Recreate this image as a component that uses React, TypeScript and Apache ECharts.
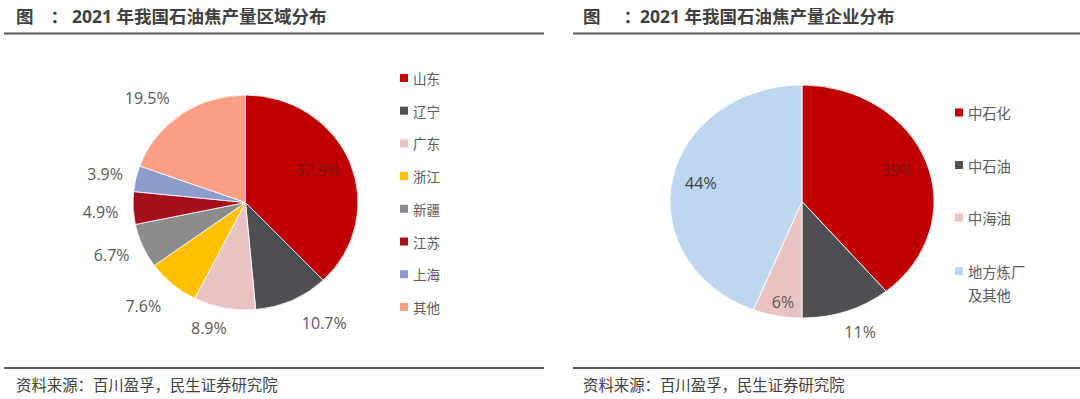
import React, { useEffect, useRef } from "react";
import * as echarts from "echarts";

const regionNames = ["山东", "辽宁", "广东", "浙江", "新疆", "江苏", "上海", "其他"];
const regionValues = [37.9, 10.7, 8.9, 7.6, 6.7, 4.9, 3.9, 19.5];
const regionColors = ["#C00000", "#4D4F52", "#E9C3C3", "#FFC000", "#8C8C8C", "#A50E1C", "#8E9CCB", "#FB9F85"];
const regionLabelFx = [0.694, 1.69, 1.74, 1.4, 1.3, 1.29, 1.28, 1.52];
const regionLabelFy = [0.815, 1.23, 1.19, 1.26, 1.22, 1.68, 1.21, 1.19];

const companyNames = ["中石化", "中石油", "中海油", "地方炼厂\n及其他"];
const companyValues = [39, 11, 6, 44];
const companyColors = ["#C00000", "#4D4F52", "#E9C3C3", "#BDD7EE"];
const companyLabelFx = [0.765, 1.3, 0.77, 0.78];
const companyLabelFy = [0.8, 1.19, 0.88, 0.85];

const leftTitle = "2021 年我国石油焦产量区域分布";
const rightTitle = "2021 年我国石油焦产量企业分布";
const sourceText = "资料来源：百川盈孚，民生证券研究院";

const FONT = "'Open Sans', 'Noto Sans CJK SC', sans-serif";
const CJK = "'Noto Sans CJK SC', sans-serif";

function fracs(values: number[], i: number) {
  const sum = values.reduce((a, b) => a + b, 0);
  let cum = 0;
  for (let k = 0; k < i; k++) cum += values[k];
  return [cum / sum, (cum + values[i]) / sum];
}

type Geo = { cx: number; cy: number; rx: number; ry: number };

function makeLayout(values: number[], fx: number[], fy: number[], g: Geo) {
  return (params: any) => {
    const i = params.dataIndex;
    const [a0, a1] = fracs(values, i);
    const a = ((a0 + a1) / 2) * Math.PI * 2;
    return {
      x: g.cx + fx[i] * g.rx * Math.sin(a),
      y: g.cy - fy[i] * g.ry * Math.cos(a),
      align: "center",
      verticalAlign: "middle",
    };
  };
}

function makeEllipsePie(values: number[], colors: string[], g: Geo) {
  return {
    type: "custom",
    coordinateSystem: "none",
    z: 2,
    silent: true,
    data: values,
    renderItem: (params: any) => {
      const i = params.dataIndex;
      const [f0, f1] = fracs(values, i);
      return {
        type: "sector",
        x: g.cx,
        y: g.cy,
        scaleX: g.rx / g.ry,
        scaleY: 1,
        shape: {
          cx: 0,
          cy: 0,
          r0: 0,
          r: g.ry,
          startAngle: -Math.PI / 2 + f0 * Math.PI * 2,
          endAngle: -Math.PI / 2 + f1 * Math.PI * 2,
          clockwise: true,
        },
        style: { fill: colors[i], stroke: "#ffffff", lineWidth: 0.8 },
      };
    },
  };
}

function makeLabelPie(names: string[], values: number[], colors: string[], g: Geo, fx: number[], fy: number[], labelColors: (string | undefined)[]) {
  return {
    type: "pie",
    z: 3,
    center: [g.cx, g.cy],
    radius: 0.5,
    startAngle: 90,
    clockwise: true,
    avoidLabelOverlap: false,
    silent: true,
    label: {
      show: true,
      position: "outside",
      formatter: (p: any) => p.value + "%",
      fontSize: 16,
      color: "#595959",
      fontFamily: FONT,
    },
    labelLine: { show: false },
    labelLayout: makeLayout(values, fx, fy, g),
    data: names.map((n, i) => ({
      name: n,
      value: values[i],
      itemStyle: { color: colors[i] },
      label: labelColors[i] ? { color: labelColors[i] } : undefined,
    })),
  };
}

export default function App() {
  const ref = useRef<HTMLDivElement>(null);
  useEffect(() => {
    const chart = echarts.init(ref.current!, null, { renderer: "svg" });
    const L: Geo = { cx: 245.5, cy: 202.5, rx: 112.5, ry: 107.5 };
    const R: Geo = { cx: 802, cy: 201.5, rx: 132, ry: 116.5 };
    const titleStyle = { fontSize: 17.5, fontWeight: "bold", fill: "#404040", fontFamily: CJK };
    const option: any = {
      animation: false,
      backgroundColor: "#ffffff",
      legend: [
        {
          orient: "vertical",
          left: 400,
          top: 71,
          padding: 0,
          itemWidth: 8,
          itemHeight: 8,
          itemGap: 18.7,
          icon: "rect",
          data: regionNames,
          textStyle: { fontSize: 13.5, lineHeight: 14, color: "#595959", fontFamily: CJK },
        },
        {
          orient: "vertical",
          left: 955,
          top: 101,
          padding: 0,
          itemWidth: 8,
          itemHeight: 8,
          itemGap: 29.5,
          icon: "rect",
          data: companyNames.slice(0, 3),
          textStyle: { fontSize: 14.3, lineHeight: 23, color: "#595959", fontFamily: CJK },
        },
        {
          orient: "vertical",
          left: 955,
          top: 236.5,
          padding: 0,
          itemWidth: 8,
          itemHeight: 8,
          icon: "rect",
          data: [companyNames[3]],
          formatter: (name: string) => "\n" + name,
          textStyle: { fontSize: 14.3, lineHeight: 23, color: "#595959", fontFamily: CJK },
        },
      ],
      series: [
        makeEllipsePie(regionValues, regionColors, L),
        makeLabelPie(regionNames, regionValues, regionColors, L, regionLabelFx, regionLabelFy, ["#7a1212"]),
        makeEllipsePie(companyValues, companyColors, R),
        makeLabelPie(companyNames, companyValues, companyColors, R, companyLabelFx, companyLabelFy, ["#7a1212", undefined, undefined, "#404040"]),
      ],
      graphic: [
        { type: "text", left: 16, top: 7, style: { text: "图", ...titleStyle } },
        { type: "text", left: 50.5, top: 7, style: { text: "：", ...titleStyle } },
        { type: "text", left: 72, top: 7, style: { text: leftTitle, ...titleStyle, fontFamily: FONT } },
        { type: "text", left: 583, top: 7, style: { text: "图", ...titleStyle } },
        { type: "text", left: 623.5, top: 7, style: { text: "：", ...titleStyle } },
        { type: "text", left: 640, top: 7, style: { text: rightTitle, ...titleStyle, fontFamily: FONT } },
        { type: "line", shape: { x1: 4, y1: 33.5, x2: 544, y2: 33.5 }, style: { stroke: "#595959", lineWidth: 2 } },
        { type: "line", shape: { x1: 573, y1: 33.5, x2: 1080, y2: 33.5 }, style: { stroke: "#595959", lineWidth: 2 } },
        { type: "line", shape: { x1: 4, y1: 368, x2: 544, y2: 368 }, style: { stroke: "#595959", lineWidth: 2 } },
        { type: "line", shape: { x1: 573, y1: 368, x2: 1080, y2: 368 }, style: { stroke: "#595959", lineWidth: 2 } },
        { type: "text", left: 16, top: 376, style: { text: sourceText, fontSize: 15.4, fill: "#404040", fontFamily: CJK } },
        { type: "text", left: 583, top: 376, style: { text: sourceText, fontSize: 15.4, fill: "#404040", fontFamily: CJK } },
      ],
    };
    chart.setOption(option);
    return () => chart.dispose();
  }, []);
  return <div ref={ref} style={{ position: "fixed", left: 0, top: 0, width: 1080, height: 399 }} />;
}
